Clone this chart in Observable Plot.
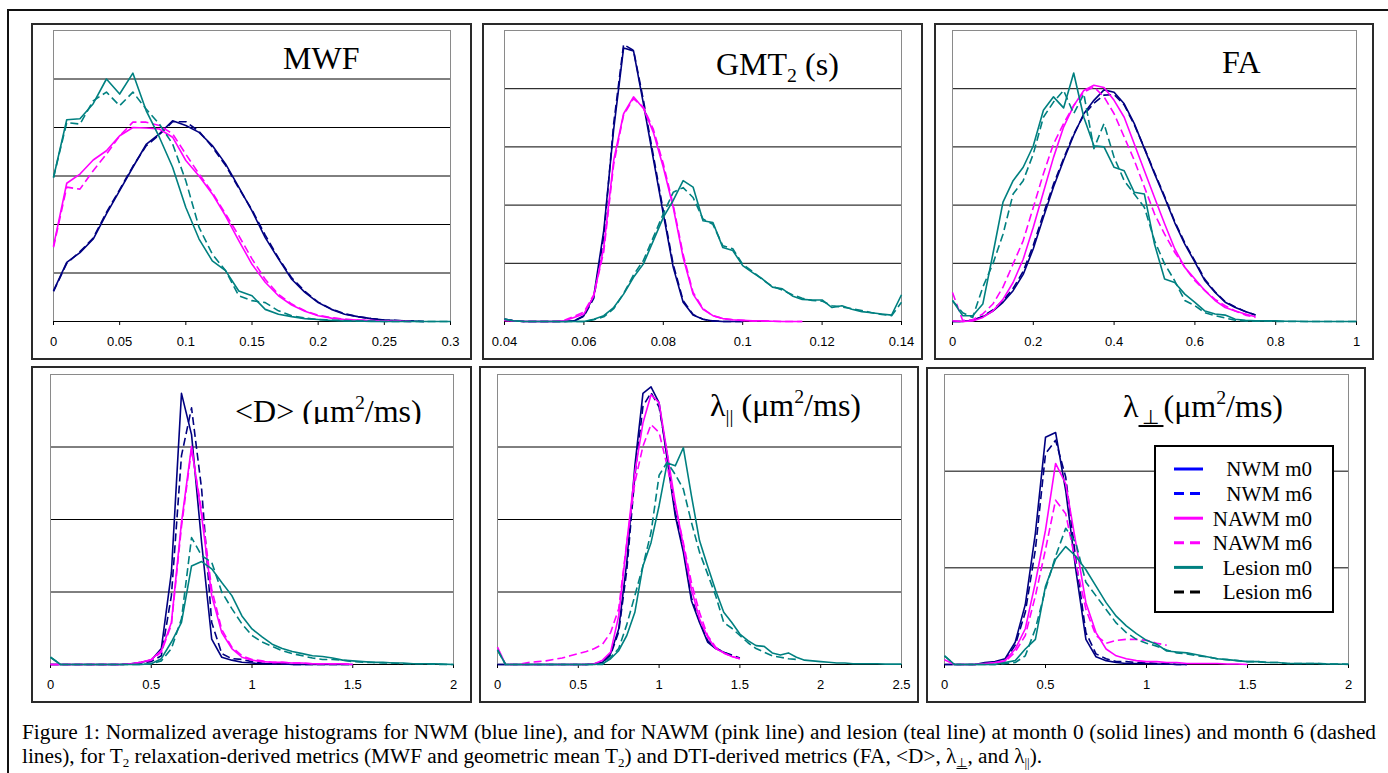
<!DOCTYPE html>
<html><head><meta charset="utf-8">
<script src="https://cdn.jsdelivr.net/npm/d3@7"></script>
<script src="https://cdn.jsdelivr.net/npm/@observablehq/plot@0.6"></script>
<style>
html,body{margin:0;padding:0;background:#fff;color:#000;}
#fig{position:relative;width:1388px;height:773px;overflow:hidden;background:#fff;}
.outer{position:absolute;left:7px;top:9px;width:1400px;height:800px;border-left:2px solid #111;border-top:2px solid #111;}
.panel{position:absolute;}
.panel svg{position:absolute;left:0;top:0;}
.frame{position:absolute;border:2px solid #2a2a2a;box-sizing:border-box;pointer-events:none;}
.cap{position:absolute;left:22px;font-family:"Liberation Serif","Times New Roman",serif;font-size:21.3px;line-height:24px;white-space:nowrap;color:#000;}
.cap sub{font-size:13px;vertical-align:-4px;line-height:0;}
</style></head><body><div id="fig"><div class="outer"></div></div>
<script>
// ---------- series ----------
const seriesNames = ["NWM m0","NWM m6","NAWM m0","NAWM m6","Lesion m0","Lesion m6"];

// MWF
const mwfX = [0,0.01,0.02,0.03,0.04,0.05,0.06,0.07,0.08,0.09,0.1,0.11,0.12,0.13,0.14,0.15,0.16,0.17,0.18,0.19,0.2,0.21,0.22,0.23,0.24,0.25,0.26,0.27,0.28,0.29,0.3];
const mwfNwm0 = [0.63,1.22,1.42,1.70,2.22,2.70,3.18,3.65,3.87,4.14,4.04,3.90,3.63,3.25,2.77,2.28,1.73,1.29,0.87,0.60,0.39,0.25,0.15,0.10,0.06,0.03,0.02,0.01,0];
const mwfNwm6 = [0.62,1.20,1.44,1.72,2.25,2.72,3.20,3.62,3.85,4.12,4.12,3.92,3.60,3.22,2.75,2.30,1.78,1.31,0.90,0.62,0.40,0.26,0.16,0.10,0.06,0.03,0.02,0.01,0];
const mwfNawm0 = [1.56,2.85,3.04,3.33,3.52,3.83,4.00,3.99,3.97,3.80,3.32,3.00,2.63,2.18,1.67,1.18,0.81,0.53,0.34,0.21,0.12,0.07,0.04,0.03,0.02,0.01,0.01,0];
const mwfNawm6 = [1.53,2.77,2.73,3.11,3.45,3.83,4.11,4.11,4.04,3.87,3.45,3.04,2.66,2.22,1.77,1.29,0.87,0.56,0.36,0.22,0.13,0.08,0.05,0.03,0.02,0.01,0.01,0];
const mwfLes0 = [2.97,4.16,4.18,4.49,5.00,4.69,5.12,4.35,3.80,3.18,2.35,1.70,1.25,1.05,0.63,0.53,0.25,0.15,0.10,0.06,0.04,0.02,0.01,0.01,0,0,0,0,0,0,0];
const mwfLes6 = [2.97,4.10,4.07,4.55,4.73,4.45,4.73,4.38,4.07,3.66,2.90,1.94,1.39,1.05,0.53,0.43,0.39,0.22,0.12,0.07,0.04,0.03,0.02,0.01,0.01,0,0,0,0,0,0];

// GMT2
const gmtX = [0.04,0.0425,0.045,0.0475,0.05,0.0525,0.055,0.0575,0.06,0.0625,0.065,0.0675,0.07,0.0725,0.075,0.0775,0.08,0.0825,0.085,0.0875,0.09,0.0925,0.095,0.0975,0.1,0.1025,0.105,0.1075,0.11,0.1125,0.115,0.1175,0.12,0.1225,0.125,0.1275,0.13,0.1325,0.135,0.1375,0.14];
const gmtNwm0 = [0.04,0.01,0,0,0,0,0,0.01,0.10,0.44,1.56,3.30,4.70,4.65,3.74,2.79,1.85,0.93,0.33,0.11,0.04,0.01,0,0,0];
const gmtNwm6 = [0.04,0.01,0,0,0,0,0,0.01,0.09,0.40,1.45,3.40,4.76,4.66,3.80,2.85,1.90,0.98,0.36,0.12,0.04,0.01,0,0,0];
const gmtNawm0 = [0.02,0.01,0,0,0,0,0.01,0.07,0.13,0.44,1.27,2.77,3.57,3.86,3.66,3.25,2.65,1.96,1.10,0.47,0.21,0.10,0.05,0.03,0.02,0.01,0.01,0.005,0,0,0];
const gmtNawm6 = [0.02,0.01,0,0,0,0,0.02,0.09,0.16,0.46,1.20,2.70,3.55,3.83,3.68,3.30,2.71,2.00,1.15,0.50,0.22,0.10,0.05,0.03,0.02,0.01,0.01,0.005,0,0,0];
const gmtLes0 = [0.04,0.01,0,0,0,0,0,0,0,0.04,0.10,0.24,0.47,0.76,0.99,1.39,1.79,2.08,2.42,2.31,1.73,1.70,1.27,1.22,0.96,0.84,0.73,0.59,0.56,0.44,0.38,0.37,0.37,0.24,0.27,0.21,0.17,0.15,0.13,0.11,0.46];
const gmtLes6 = [0.04,0.01,0,0,0,0,0,0,0,0.03,0.08,0.22,0.48,0.80,1.05,1.45,1.85,2.22,2.30,2.13,1.76,1.67,1.30,1.25,0.98,0.86,0.72,0.60,0.54,0.46,0.40,0.36,0.35,0.27,0.25,0.22,0.19,0.15,0.12,0.10,0.33];

// FA
const faX = [0,0.025,0.05,0.075,0.1,0.125,0.15,0.175,0.2,0.225,0.25,0.275,0.3,0.325,0.35,0.375,0.4,0.425,0.45,0.475,0.5,0.525,0.55,0.575,0.6,0.625,0.65,0.675,0.7,0.725,0.75,0.775,0.8,0.825,0.85,0.875,0.9,0.925,0.95,0.975,1];
const faNwm0 = [0,0,0.02,0.08,0.18,0.33,0.53,0.81,1.25,1.79,2.31,2.77,3.20,3.57,3.80,3.98,3.94,3.74,3.40,2.97,2.54,2.13,1.70,1.33,1.02,0.70,0.50,0.33,0.24,0.17,0.11];
const faNwm6 = [0,0,0.02,0.09,0.20,0.36,0.57,0.86,1.31,1.85,2.36,2.80,3.22,3.55,3.75,3.89,3.90,3.72,3.38,2.98,2.56,2.15,1.72,1.35,1.04,0.72,0.51,0.34,0.25,0.17,0.11];
const faNawm0 = [0.01,0,0.01,0.07,0.18,0.38,0.67,1.07,1.62,2.22,2.82,3.34,3.71,3.97,4.06,4.02,3.80,3.51,3.05,2.59,2.13,1.68,1.25,0.93,0.73,0.53,0.36,0.24,0.18,0.13,0.08];
const faNawm6 = [0.50,0.02,0.03,0.13,0.30,0.59,0.99,1.39,1.96,2.54,3.05,3.40,3.71,3.94,4.03,3.86,3.57,3.17,2.77,2.31,1.85,1.50,1.19,0.93,0.70,0.53,0.38,0.27,0.18,0.11,0.07];
const faLes0 = [0.36,0.10,0.10,0.30,1.16,2.05,2.42,2.65,3.02,3.63,3.86,3.67,4.27,3.51,3.02,3.00,2.65,2.59,2.22,2.19,1.33,0.73,0.67,0.47,0.33,0.18,0.13,0.11,0.04,0.02,0.01,0.01,0.01,0.005,0.005,0,0,0,0,0,0];
const faLes6 = [0.36,0.15,0.07,0.59,0.99,1.50,2.19,2.42,2.88,3.51,3.77,3.97,3.57,3.91,2.97,3.40,2.82,2.42,2.19,1.96,1.39,0.99,0.70,0.36,0.27,0.15,0.10,0.06,0.02,0.01,0.01,0.01,0,0,0,0,0,0,0,0,0];

// <D>
const mdX = [0,0.05,0.1,0.15,0.2,0.25,0.3,0.35,0.4,0.45,0.5,0.55,0.6,0.65,0.7,0.75,0.8,0.85,0.9,0.95,1,1.05,1.1,1.15,1.2,1.25,1.3,1.35,1.4,1.45,1.5,1.55,1.6,1.65,1.7,1.75,1.8,1.85,1.9,1.95,2];
const mdNwm0 = [0,0,0,0,0,0,0,0,0.01,0.03,0.06,0.22,1.27,3.74,3.17,1.68,0.35,0.10,0.06,0.03,0.02,0.01,0.01,0.01,0,0,0,0,0,0,0];
const mdNwm6 = [0,0,0,0,0,0,0,0,0.01,0.02,0.04,0.12,0.95,2.88,3.54,2.42,0.58,0.15,0.08,0.07,0.04,0.02,0.01,0.01,0,0,0,0,0,0,0];
const mdNawm0 = [0,0,0,0,0,0,0,0,0.01,0.03,0.07,0.19,0.58,1.96,3.01,2.05,0.95,0.44,0.22,0.10,0.06,0.04,0.03,0.03,0.02,0.02,0.01,0.01,0.01,0.01,0];
const mdNawm6 = [0,0,0,0,0,0,0,0,0.01,0.03,0.06,0.17,0.55,1.90,2.97,2.12,1.04,0.48,0.24,0.12,0.07,0.05,0.03,0.03,0.02,0.02,0.01,0.01,0.01,0.01,0];
const mdLes0 = [0.10,0,0,0,0,0,0,0,0,0,0.01,0.08,0.31,0.58,1.36,1.42,1.32,1.13,0.95,0.67,0.49,0.38,0.28,0.22,0.18,0.15,0.12,0.11,0.09,0.06,0.05,0.04,0.03,0.03,0.02,0.02,0.01,0.01,0.01,0.005,0];
const mdLes6 = [0.10,0,0,0,0,0,0,0,0,0,0.01,0.05,0.22,0.63,1.75,1.50,1.41,1.00,0.77,0.56,0.40,0.31,0.25,0.19,0.15,0.12,0.09,0.07,0.07,0.06,0.04,0.03,0.03,0.02,0.02,0.01,0.01,0.01,0.005,0,0];

// lambda parallel
const lparX = [0,0.05,0.1,0.15,0.2,0.25,0.3,0.35,0.4,0.45,0.5,0.55,0.6,0.65,0.7,0.75,0.8,0.85,0.9,0.95,1,1.05,1.1,1.15,1.2,1.25,1.3,1.35,1.4,1.45,1.5,1.55,1.6,1.65,1.7,1.75,1.8,1.85,1.9,1.95,2,2.05,2.1,2.15,2.2,2.25,2.3,2.35,2.4,2.45,2.5];
const lparNwm0 = [0,0,0,0,0,0,0,0,0,0,0,0,0.01,0.03,0.15,0.49,1.41,2.74,3.74,3.83,3.61,2.83,2.05,1.55,0.88,0.58,0.31,0.22,0.17,0.12];
const lparNwm6 = [0,0,0,0,0,0,0,0,0,0,0,0,0.01,0.03,0.13,0.45,1.30,2.60,3.56,3.75,3.55,2.90,2.10,1.60,0.92,0.60,0.33,0.23,0.17,0.13,0.09];
const lparNawm0 = [0.24,0,0,0,0,0,0,0,0,0,0,0,0.01,0.06,0.17,0.67,1.68,2.65,3.33,3.72,3.61,2.92,2.23,1.64,1.04,0.63,0.38,0.22,0.16,0.11,0.08];
const lparNawm6 = [null,null,null,0.01,0.03,0.04,0.05,0.07,0.09,0.12,0.15,0.18,0.22,0.28,0.44,0.77,1.68,2.51,3.01,3.31,3.20,2.74,2.19,1.68,1.13,0.72,0.40,0.24,0.16,0.11,0.08];
const lparLes0 = [0.20,0,0,0,0,0,0,0,0,0,0,0,0,0.01,0.08,0.19,0.40,0.72,1.36,1.68,2.19,2.78,2.74,2.99,2.33,1.71,1.36,1.02,0.72,0.58,0.42,0.33,0.26,0.25,0.16,0.13,0.16,0.10,0.06,0.05,0.04,0.03,0.02,0.02,0.01,0.01,0.01,0.01,0.005,0.005,0.005];
const lparLes6 = [0.20,0,0,0,0,0,0,0,0,0,0,0,0,0,0.10,0.22,0.55,0.95,1.36,1.82,2.61,2.79,2.62,2.42,1.96,1.55,1.25,0.95,0.58,0.50,0.40,0.30,0.22,0.17,0.12,0.10,0.08,0.07];

// lambda perpendicular
const lperpX = [0,0.05,0.1,0.15,0.2,0.25,0.3,0.35,0.4,0.45,0.5,0.55,0.6,0.65,0.7,0.75,0.8,0.85,0.9,0.95,1,1.05,1.1,1.15,1.2,1.25,1.3,1.35,1.4,1.45,1.5,1.55,1.6,1.65,1.7,1.75,1.8,1.85,1.9,1.95,2];
const lperpNwm0 = [0,0,0,0,0.02,0.03,0.06,0.23,0.62,1.36,2.35,2.40,1.80,0.98,0.26,0.08,0.04,0.02,0.01,0.01,0.01,0.005,0.005,0,0];
const lperpNwm6 = [0,0,0,0,0.01,0.02,0.04,0.20,0.54,1.19,2.18,2.32,1.94,1.09,0.33,0.11,0.06,0.03,0.03,0.02,0.02,0.01,0.01,0,0];
const lperpNawm0 = [0.05,0,0,0,0.01,0.02,0.04,0.16,0.37,0.85,1.39,2.08,1.87,1.26,0.64,0.33,0.16,0.09,0.06,0.04,0.03,0.03,0.02,0.02,0.01,0.01,0.01,0.01,0.005,0.005,0];
const lperpNawm6 = [null,null,null,null,0,0.01,0.03,0.13,0.30,0.71,1.19,1.70,1.56,1.05,0.57,0.30,0.22,0.25,0.26,0.26,0.25,0.22,0.20];
const lperpLes0 = [0.09,0,0,0,0,0,0.02,0.04,0.16,0.26,0.81,1.09,1.22,1.12,0.98,0.81,0.64,0.50,0.40,0.32,0.25,0.21,0.14,0.13,0.12,0.10,0.08,0.06,0.05,0.04,0.03,0.03,0.02,0.02,0.01,0.01,0.01,0.01,0.005,0.005,0];
const lperpLes6 = [0.09,0,0,0,0,0,0.01,0.02,0.09,0.37,0.78,1.12,1.41,1.26,0.85,0.71,0.57,0.43,0.33,0.26,0.22,0.19,0.15,0.12,0.11,0.09,0.08,0.06,0.05,0.04,0.03,0.03,0.02,0.02,0.01,0.01,0.01,0.01,0.005,0.005,0.005];

// ---------- ticks ----------
const mwfTicks = [0,0.05,0.1,0.15,0.2,0.25,0.3];
const mwfTickLabels = ["0","0.05","0.1","0.15","0.2","0.25","0.3"];
const gmtTicks = [0.04,0.06,0.08,0.1,0.12,0.14];
const gmtTickLabels = ["0.04","0.06","0.08","0.1","0.12","0.14"];
const faTicks = [0,0.2,0.4,0.6,0.8,1];
const faTickLabels = ["0","0.2","0.4","0.6","0.8","1"];
const mdTicks = [0,0.5,1,1.5,2];
const mdTickLabels = ["0","0.5","1","1.5","2"];
const lparTicks = [0,0.5,1,1.5,2,2.5];
const lparTickLabels = ["0","0.5","1","1.5","2","2.5"];
const lperpTicks = [0,0.5,1,1.5,2];
const lperpTickLabels = ["0","0.5","1","1.5","2"];

// ---------- styles / layout ----------
const lineColors = ["#000080","#000080","#ff00ff","#ff00ff","#008080","#008080"];
const lineDashed = [false,true,false,true,false,true];
const legendColors = ["#0000ff","#0000ff","#ff00ff","#ff00ff","#008080","#000000"];
const SERIF = "'Liberation Serif', 'Times New Roman', serif";
const SANS = "'Liberation Sans', Arial, sans-serif";

const panels = [
  {x: mwfX, ys: [mwfNwm0,mwfNwm6,mwfNawm0,mwfNawm6,mwfLes0,mwfLes6], ticks: mwfTicks, labels: mwfTickLabels,
   domain: [0,0.3], grid: 6, frame: [32,24,439,335], m: [6,21,38,21],
   title: {x: 283, y: 69, parts: [["MWF","n"]]}},
  {x: gmtX, ys: [gmtNwm0,gmtNwm6,gmtNawm0,gmtNawm6,gmtLes0,gmtLes6], ticks: gmtTicks, labels: gmtTickLabels,
   domain: [0.04,0.14], grid: 5, frame: [483,24,439,335], m: [6,21,38,21],
   title: {x: 716, y: 75, parts: [["GMT","n"],["2","sub"],[" (s)","n"]]}},
  {x: faX, ys: [faNwm0,faNwm6,faNawm0,faNawm6,faLes0,faLes6], ticks: faTicks, labels: faTickLabels,
   domain: [0,1], grid: 5, frame: [935,24,438,335], m: [6,17,38,17],
   title: {x: 1222, y: 73, parts: [["FA","n"]]}},
  {x: mdX, ys: [mdNwm0,mdNwm6,mdNawm0,mdNawm6,mdLes0,mdLes6], ticks: mdTicks, labels: mdTickLabels,
   domain: [0,2], grid: 4, frame: [32,367,439,335], m: [7,18,38,18],
   title: {x: 235, y: 422, clipBottom: 424, parts: [["<D> (\u03bcm","n"],["2","sup"],["/ms)","n"]]}},
  {x: lparX, ys: [lparNwm0,lparNwm6,lparNawm0,lparNawm6,lparLes0,lparLes6], ticks: lparTicks, labels: lparTickLabels,
   domain: [0,2.5], grid: 4, frame: [480,367,438,335], m: [7,17,38,17],
   title: {x: 710, y: 416, parts: [["\u03bb","n"],["||","sub"],[" (\u03bcm","n"],["2","sup"],["/ms)","n"]]}},
  {x: lperpX, ys: [lperpNwm0,lperpNwm6,lperpNawm0,lperpNawm6,lperpLes0,lperpLes6], ticks: lperpTicks, labels: lperpTickLabels,
   domain: [0,2], grid: 3, frame: [927,368,438,334], m: [6,17,38,17], legend: true,
   title: {x: 1123, y: 417, parts: [["\u03bb","n"],["\u2009\u22a5\u2009","subu"],["(\u03bcm","n"],["2","sup"],["/ms)","n"]]}}
];

const fig = document.getElementById("fig");
let clipCount = 0;

function addTitle(svg, fl, ft, t) {
  const size = 32;
  const text = svg.append("text").attr("x", t.x - fl).attr("y", t.y - ft)
    .style("font-family", SERIF).style("font-size", size + "px").style("text-anchor", "start").style("fill", "#000");
  if (t.clipBottom) {
    const id = "ttlclip" + (clipCount++);
    svg.append("clipPath").attr("id", id).append("rect")
      .attr("x", 0).attr("y", 0).attr("width", 2000).attr("height", t.clipBottom - ft);
    text.attr("clip-path", `url(#${id})`);
  }
  let shift = 0;
  for (const [s, kind] of t.parts) {
    const target = (kind === "sub" || kind === "subu") ? size * 0.22 : kind === "sup" ? -size * 0.42 : 0;
    const ts = text.append("tspan").attr("dy", target - shift).style("font-family", SERIF).text(s);
    if (kind !== "n") ts.style("font-size", (size * 0.62) + "px");
    if (kind === "subu") ts.style("text-decoration", "underline");
    shift = target;
  }
}

function addLegend(svg, fl, ft) {
  const g = svg.append("g");
  g.append("rect").attr("x", 1155 - fl).attr("y", 446 - ft).attr("width", 178).attr("height", 166)
    .attr("fill", "#fff").attr("stroke", "#000").attr("stroke-width", 2);
  seriesNames.forEach((name, i) => {
    const y = 469 + 24.6 * i - ft;
    g.append("line").attr("x1", 1174 - fl).attr("x2", 1203 - fl).attr("y1", y).attr("y2", y)
      .attr("stroke", legendColors[i]).attr("stroke-width", 3)
      .attr("stroke-dasharray", lineDashed[i] ? "10,6" : null);
    g.append("text").attr("x", 1312 - fl).attr("y", y).attr("dy", "0.35em")
      .style("text-anchor", "end").style("font-family", SERIF).style("font-size", "21px").style("fill", "#000")
      .text(name);
  });
}

for (const p of panels) {
  const [fl, ft, fw, fh] = p.frame;
  const [mt, mr, mb, ml] = p.m;
  const marks = [
    Plot.ruleY(d3.range(1, p.grid), {stroke: "#000", strokeWidth: 1}),
    Plot.frame({stroke: "#8a8a8a", strokeWidth: 1}),
    Plot.ruleY([0], {stroke: "#000", strokeWidth: 1}),
    Plot.axisX(p.ticks, {tickFormat: d => p.labels[p.ticks.indexOf(d)], tickSize: 4, tickPadding: 11, fontSize: 13})
  ];
  p.ys.forEach((ys, k) => {
    const pts = ys.map((y, i) => [p.x[i], y]).filter(d => d[1] != null);
    marks.push(Plot.line(pts, {x: d => d[0], y: d => d[1], stroke: lineColors[k], strokeWidth: 1.6,
      strokeDasharray: lineDashed[k] ? "8,4" : null, strokeLinecap: "butt", strokeLinejoin: "round"}));
  });
  const svgEl = Plot.plot({
    width: fw, height: fh, marginTop: mt, marginRight: mr, marginBottom: mb, marginLeft: ml,
    x: {domain: p.domain}, y: {domain: [0, p.grid], axis: null},
    style: {"font-family": SANS, "font-size": "13px", background: "transparent", color: "#000", overflow: "visible"},
    marks
  });
  const holder = document.createElement("div");
  holder.className = "panel";
  holder.style.left = fl + "px"; holder.style.top = ft + "px";
  holder.style.width = fw + "px"; holder.style.height = fh + "px";
  holder.appendChild(svgEl);
  fig.appendChild(holder);
  const svg = d3.select(svgEl);
  addTitle(svg, fl, ft, p.title);
  if (p.legend) addLegend(svg, fl, ft);
  const fr = document.createElement("div");
  fr.className = "frame";
  fr.style.left = (fl - 1) + "px"; fr.style.top = (ft - 1) + "px";
  fr.style.width = (fw + 2) + "px"; fr.style.height = (fh + 2) + "px";
  fig.appendChild(fr);
}

// caption
const cap1 = document.createElement("div");
cap1.className = "cap";
cap1.style.top = "720px";
cap1.style.width = "1354px";
cap1.style.textAlign = "justify";
cap1.style.textAlignLast = "justify";
cap1.textContent = "Figure 1: Normalized average histograms for NWM (blue line), and for NAWM (pink line) and lesion (teal line) at month 0 (solid lines) and month 6 (dashed";
fig.appendChild(cap1);
const cap2 = document.createElement("div");
cap2.className = "cap";
cap2.style.top = "744px";
cap2.innerHTML = "lines), for T<sub>2</sub> relaxation-derived metrics (MWF and geometric mean T<sub>2</sub>) and DTI-derived metrics (FA, &lt;D&gt;, \u03bb<sub><u>\u22a5</u></sub>, and \u03bb<sub>||</sub>).";
fig.appendChild(cap2);
</script></body></html>
